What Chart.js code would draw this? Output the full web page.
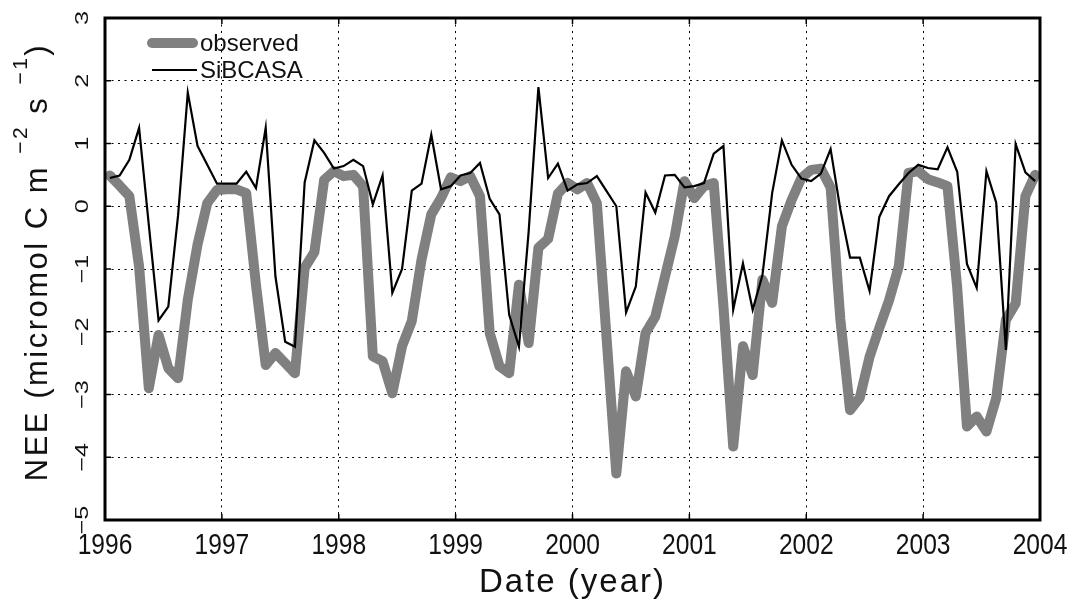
<!DOCTYPE html>
<html>
<head>
<meta charset="utf-8">
<script src="https://cdn.jsdelivr.net/npm/chart.js@4.4.1/dist/chart.umd.min.js"></script>
<style>
  html, body { margin: 0; padding: 0; background: #fff; }
  #wrap { width: 1073px; height: 602px; }
</style>
</head>
<body>
<div id="wrap"><canvas id="nee" width="1073" height="602"></canvas></div>
<script>
// monthly NEE, Jan 1996 .. Dec 2003
const observed = [
  0.49, 0.33, 0.16, -0.96, -2.90, -2.05, -2.58, -2.74, -1.49, -0.61, 0.05, 0.26,
  0.27, 0.27, 0.21, -1.25, -2.53, -2.34, -2.50, -2.66, -0.98, -0.73, 0.42, 0.56,
  0.48, 0.50, 0.32, -2.39, -2.47, -2.98, -2.23, -1.83, -0.85, -0.13, 0.13, 0.46,
  0.40, 0.48, 0.16, -2.02, -2.55, -2.66, -1.25, -2.18, -0.66, -0.52, 0.20, 0.37,
  0.27, 0.37, 0.05, -2.10, -4.26, -2.63, -3.03, -2.02, -1.76, -1.12, -0.48, 0.40,
  0.13, 0.32, 0.37, -1.60, -3.83, -2.23, -2.69, -1.17, -1.54, -0.32, 0.10, 0.45,
  0.58, 0.60, 0.30, -1.80, -3.25, -3.05, -2.40, -1.94, -1.50, -0.96, 0.53, 0.56,
  0.43, 0.38, 0.32, -1.30, -3.51, -3.35, -3.59, -3.06, -1.81, -1.55, 0.16, 0.50
];
const sibcasa = [
  0.45, 0.49, 0.74, 1.25, -0.30, -1.82, -1.60, -0.15, 1.81, 0.96, 0.66, 0.36,
  0.36, 0.36, 0.55, 0.29, 1.25, -1.12, -2.16, -2.24, 0.38, 1.05, 0.85, 0.60,
  0.64, 0.74, 0.64, 0.03, 0.49, -1.38, -1.00, 0.25, 0.36, 1.14, 0.27, 0.32,
  0.49, 0.53, 0.69, 0.12, -0.13, -1.73, -2.24, -0.40, 1.90, 0.45, 0.68, 0.25,
  0.35, 0.37, 0.48, 0.24, 0.00, -1.69, -1.28, 0.22, -0.10, 0.49, 0.50, 0.30,
  0.32, 0.37, 0.84, 0.96, -1.65, -0.91, -1.65, -1.10, 0.21, 1.05, 0.66, 0.44,
  0.40, 0.52, 0.91, -0.05, -0.82, -0.82, -1.35, -0.17, 0.16, 0.35, 0.53, 0.66,
  0.61, 0.59, 0.94, 0.55, -0.92, -1.30, 0.56, 0.06, -2.29, 0.99, 0.54, 0.40
];
const yearTicks = [1996, 1997, 1998, 1999, 2000, 2001, 2002, 2003, 2004];
const neeTicks = [-5, -4, -3, -2, -1, 0, 1, 2, 3];

// mid-month dates as decimal years
const dates = observed.map((_, i) => 1996 + (i + 0.5) / 12);
const toPts = (vals) => vals.map((v, i) => ({ x: dates[i], y: v }));

const SANS = '"Liberation Sans", Arial, sans-serif';
const INK = "#111";

const decor = {
  id: "decor",
  afterDraw(chart) {
    const ctx = chart.ctx;
    const a = chart.chartArea;
    const x = chart.scales.x;
    const y = chart.scales.y;
    ctx.save();

    // frame + inward ticks
    ctx.strokeStyle = "#000";
    ctx.lineWidth = 3;
    ctx.strokeRect(a.left, a.top, a.right - a.left, a.bottom - a.top);
    ctx.lineWidth = 1.5;
    ctx.beginPath();
    yearTicks.forEach((t) => {
      const px = x.getPixelForValue(t);
      ctx.moveTo(px, a.bottom); ctx.lineTo(px, a.bottom - 6);
      ctx.moveTo(px, a.top); ctx.lineTo(px, a.top + 6);
    });
    neeTicks.forEach((t) => {
      const py = y.getPixelForValue(t);
      ctx.moveTo(a.left, py); ctx.lineTo(a.left + 6, py);
      ctx.moveTo(a.right, py); ctx.lineTo(a.right - 6, py);
    });
    ctx.stroke();

    ctx.fillStyle = INK;

    // x tick labels (condensed)
    ctx.font = "30px " + SANS;
    ctx.textAlign = "center";
    ctx.textBaseline = "alphabetic";
    yearTicks.forEach((t) => {
      ctx.save();
      ctx.translate(x.getPixelForValue(t), 554);
      ctx.scale(0.82, 1);
      ctx.fillText(String(t), 0, 0);
      ctx.restore();
    });

    // y tick labels, rotated
    ctx.font = "23px " + SANS;
    neeTicks.forEach((t) => {
      ctx.save();
      ctx.translate(88, y.getPixelForValue(t));
      ctx.rotate(-Math.PI / 2);
      ctx.scale(1.1, 0.8);
      ctx.fillText(String(t).replace("-", "\u2212"), 0, 0);
      ctx.restore();
    });

    // x title
    ctx.font = "33px " + SANS;
    if ("letterSpacing" in ctx) ctx.letterSpacing = "2px";
    ctx.fillText("Date (year)", (a.left + a.right) / 2, 592);

    // y title with superscripts
    const parts = [
      ["NEE (micromol C m ", 0],
      ["\u22122", 1],
      [" s ", 0],
      ["\u22121", 1],
      [")", 0]
    ];
    if ("letterSpacing" in ctx) ctx.letterSpacing = "2.5px";
    const fontFor = (sup) => (sup ? "21px " : "31px ") + SANS;
    let total = 0;
    parts.forEach(([s, sup]) => { ctx.font = fontFor(sup); total += ctx.measureText(s).width; });
    ctx.save();
    ctx.translate(47, 262);
    ctx.rotate(-Math.PI / 2);
    ctx.textAlign = "left";
    let cx = -total / 2;
    parts.forEach(([s, sup]) => {
      ctx.font = fontFor(sup);
      ctx.fillText(s, cx, sup ? -20 : 0);
      cx += ctx.measureText(s).width;
    });
    ctx.restore();
    if ("letterSpacing" in ctx) ctx.letterSpacing = "0px";

    // legend
    const ds = chart.data.datasets;
    ctx.lineCap = "round";
    ctx.strokeStyle = ds[0].borderColor;
    ctx.lineWidth = ds[0].borderWidth;
    ctx.beginPath(); ctx.moveTo(152, 43); ctx.lineTo(193, 43); ctx.stroke();
    ctx.lineCap = "butt";
    ctx.strokeStyle = ds[1].borderColor;
    ctx.lineWidth = ds[1].borderWidth;
    ctx.beginPath(); ctx.moveTo(152, 70); ctx.lineTo(197, 70); ctx.stroke();
    ctx.font = "24px " + SANS;
    ctx.textAlign = "left";
    ctx.fillText(ds[0].label, 200, 51);
    ctx.fillText(ds[1].label, 200, 78);

    ctx.restore();
  }
};

const dotted = {
  display: true,
  color: "#000",
  lineWidth: 1,
  drawTicks: false
};

new Chart(document.getElementById("nee"), {
  type: "line",
  data: {
    datasets: [
      {
        label: "observed",
        data: toPts(observed),
        borderColor: "#808080",
        borderWidth: 10,
        borderCapStyle: "round",
        borderJoinStyle: "round",
        pointRadius: 0,
        tension: 0,
        order: 2
      },
      {
        label: "SiBCASA",
        data: toPts(sibcasa),
        borderColor: "#000",
        borderWidth: 2.2,
        borderJoinStyle: "miter",
        pointRadius: 0,
        tension: 0,
        order: 1
      }
    ]
  },
  options: {
    responsive: false,
    animation: false,
    layout: { padding: { left: 105, top: 18, right: 33, bottom: 82 } },
    plugins: { legend: { display: false }, tooltip: { enabled: false } },
    scales: {
      x: {
        type: "linear",
        min: 1996,
        max: 2004,
        afterBuildTicks: (s) => { s.ticks = yearTicks.map((v) => ({ value: v })); },
        ticks: { display: false },
        grid: dotted,
        border: { display: false, dash: [2, 4.5] }
      },
      y: {
        type: "linear",
        min: -5,
        max: 3,
        afterBuildTicks: (s) => { s.ticks = neeTicks.map((v) => ({ value: v })); },
        ticks: { display: false },
        grid: dotted,
        border: { display: false, dash: [2, 4.5] }
      }
    }
  },
  plugins: [decor]
});
</script>
</body>
</html>
